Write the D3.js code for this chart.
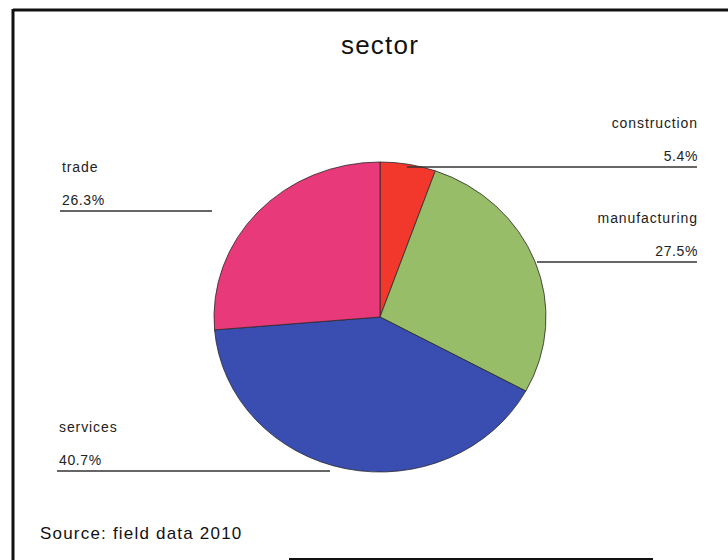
<!DOCTYPE html>
<html>
<head>
<meta charset="utf-8">
<script src="https://cdn.jsdelivr.net/npm/d3@7"></script>
<style>
    body { margin: 0; background: white; }
    svg { display: block; font-family: "Liberation Sans", Arial, sans-serif; }
</style>
</head>
<body>
<svg id="chart" width="728" height="560"></svg>
<script>
// pie data, clockwise from 12 o'clock
const sectors = ["construction", "manufacturing", "services", "trade"];
const shares = [5.4, 27.5, 40.7, 26.3];
const shareLabels = ["5.4%", "27.5%", "40.7%", "26.3%"];
const sliceColors = ["#f2382c", "#98bd68", "#3a4db0", "#e8397b"];

const svg = d3.select("#chart");

// frame (scan shows only top, left and part of bottom)
svg.append("line").attr("x1", 13).attr("y1", 10).attr("x2", 728).attr("y2", 10)
    .attr("stroke", "#111").attr("stroke-width", 3);
svg.append("line").attr("x1", 13).attr("y1", 9).attr("x2", 13).attr("y2", 560)
    .attr("stroke", "#111").attr("stroke-width", 3);
svg.append("line").attr("x1", 289).attr("y1", 559).attr("x2", 653).attr("y2", 559)
    .attr("stroke", "#111").attr("stroke-width", 2);

svg.append("text")
    .attr("x", 380).attr("y", 54)
    .attr("text-anchor", "middle")
    .attr("font-size", 26)
    .attr("letter-spacing", 1.2)
    .attr("fill", "#111")
    .text("sector");

const cx = 380, cy = 317, rx = 166, ry = 155;

const pie = d3.pie().sort(null)(shares);
const arc = d3.arc().innerRadius(0).outerRadius(rx);

const g = svg.append("g")
    .attr("transform", `translate(${cx},${cy}) scale(1,${ry / rx})`);

g.selectAll("path")
    .data(pie)
    .enter().append("path")
    .attr("d", arc)
    .attr("fill", (d, i) => sliceColors[i])
    .attr("stroke", "#2a2a2a")
    .attr("stroke-width", 0.8)
    .attr("vector-effect", "non-scaling-stroke");

// leader lines and labels
const labelPos = [
    { x1: 407, x2: 697, y: 167, anchor: "end" },
    { x1: 537, x2: 697, y: 262, anchor: "end" },
    { x1: 57, x2: 330, y: 471, anchor: "start" },
    { x1: 60, x2: 212, y: 211, anchor: "start" }
];

sectors.forEach((name, i) => {
    const p = labelPos[i];
    svg.append("line")
        .attr("x1", p.x1).attr("x2", p.x2)
        .attr("y1", p.y).attr("y2", p.y)
        .attr("stroke", "#333").attr("stroke-width", 1.5);
    const tx = p.anchor === "end" ? p.x2 + 1 : p.x1 + 2;
    svg.append("text")
        .attr("x", tx).attr("y", p.y - 39)
        .attr("text-anchor", p.anchor)
        .attr("font-size", 14)
        .attr("letter-spacing", 0.9)
        .attr("fill", "#222")
        .text(name);
    svg.append("text")
        .attr("x", tx).attr("y", p.y - 6)
        .attr("text-anchor", p.anchor)
        .attr("font-size", 14)
        .attr("letter-spacing", 0.6)
        .attr("fill", "#222")
        .text(shareLabels[i]);
});

svg.append("text")
    .attr("x", 40).attr("y", 539)
    .attr("font-size", 17)
    .attr("letter-spacing", 1.2)
    .attr("fill", "#111")
    .text("Source: field data 2010");
</script>
</body>
</html>
